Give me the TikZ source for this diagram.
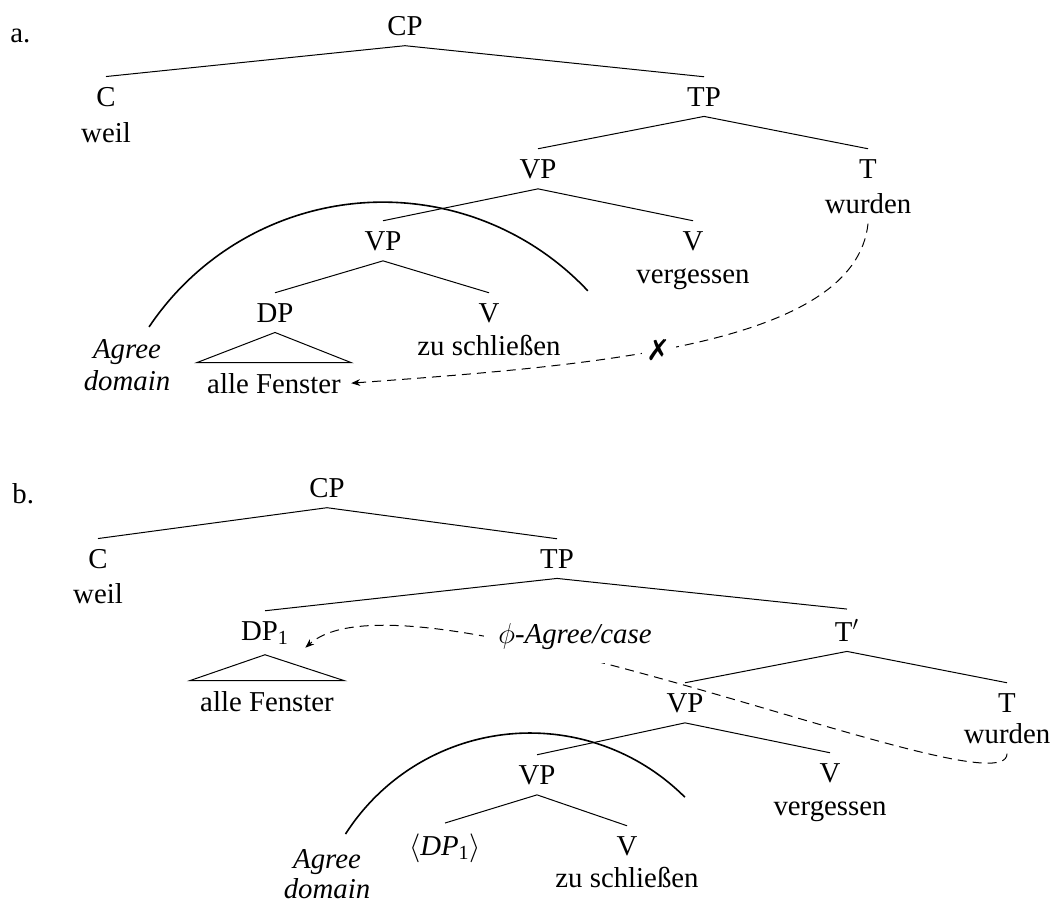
\documentclass[tikz,border=0pt]{standalone}
\usepackage{fontspec}
\setmainfont{Liberation Serif}
\newfontfamily\symfont{DejaVu Sans}
\usetikzlibrary{arrows.meta}
\begin{document}
\begin{tikzpicture}[x=0.5pt,y=-0.5pt,
  every node/.style={font=\fontsize{14.4}{17}\selectfont, inner sep=5pt},
  lbl/.style={anchor=base},
  edge/.style={line width=0.5pt},
  dom/.style={line width=0.8pt},
  dsh/.style={line width=0.5pt, dash pattern=on 4.5pt off 3pt, -{Stealth[length=4.5pt,width=3.4pt]}},
  it/.style={anchor=base, font=\fontsize{14.4}{17}\selectfont\itshape}]
\useasboundingbox (0,0) rectangle (1052,902);

% ---------------- tree a ----------------
\node[anchor=base west, inner sep=0pt] (la) at (10,42) {a.};
\node[lbl] (CPa) at (405,35) {CP};
\node[lbl] (Ca) at (106,106) {C};
\node[lbl] (weila) at (106,142) {weil};
\node[lbl] (TPa) at (704,106) {TP};
\node[lbl] (VPa) at (538,178) {VP};
\node[lbl] (Ta) at (868,178) {T};
\node[lbl] (wurdena) at (868,213) {wurden};
\node[lbl] (VPa2) at (383,250) {VP};
\node[lbl] (Va) at (693,250) {V};
\node[lbl] (verga) at (693,283) {vergessen};
\node[lbl] (DPa) at (275,322) {DP};
\node[lbl] (Va2) at (489,322) {V};
\node[lbl] (zua) at (489,355) {zu schließen};
\node[lbl] (AFa) at (274,393) {alle Fenster};
\node[it] (agra) at (127,358) {Agree};
\node[it] (doma) at (127,390) {domain};

\draw[edge] (Ca.north) -- (CPa.south) -- (TPa.north);
\draw[edge] (VPa.north) -- (TPa.south) -- (Ta.north);
\draw[edge] (VPa2.north) -- (VPa.south) -- (Va.north);
\draw[edge] (DPa.north) -- (VPa2.south) -- (Va2.north);
\draw[edge] (DPa.south) -- (AFa.north west) -- (AFa.north east) -- cycle;

\draw[dom] plot[domain=-146.2:-43.2, samples=90]
  ({382.8+281.3*cos(\x)}, {483.4+281.3*sin(\x)});

\draw[dsh] (wurdena.south) .. controls (855,345) and (600,365) .. (AFa.east)
  node[pos=0.565, fill=white, inner sep=2.5pt, font=\fontsize{14.4}{17}\symfont] (xmark) {✗};

% ---------------- tree b ----------------
\node[anchor=base west, inner sep=0pt] (lb) at (12,503) {b.};
\node[lbl] (CPb) at (327,497) {CP};
\node[lbl] (Cb) at (98,568) {C};
\node[lbl] (weilb) at (98,603) {weil};
\node[lbl] (TPb) at (557,568) {TP};
\node[lbl] (DP1) at (265,640) {DP\textsubscript{1}};
\node[lbl] (Tbar) at (847,641) {T$'$};
\node[lbl] (AFb) at (267,711) {alle Fenster};
\node[lbl] (VPb) at (685,712) {VP};
\node[lbl] (Tb) at (1007,712) {T};
\node[lbl] (wurdenb) at (1007,743) {wurden};
\node[lbl] (VPb2) at (537,784) {VP};
\node[lbl] (Vb) at (830,782) {V};
\node[lbl] (vergb) at (830,815) {vergessen};
\node[lbl] (DPt) at (445,855) {$\langle$\textit{DP}\textsubscript{1}$\rangle$};
\node[lbl] (Vb2) at (627,855) {V};
\node[lbl] (zub) at (627,887) {zu schließen};
\node[it] (agrb) at (327,868) {Agree};
\node[it] (domb) at (327,898) {domain};

\draw[edge] (Cb.north) -- (CPb.south) -- (TPb.north);
\draw[edge] (DP1.north) -- (TPb.south) -- (Tbar.north);
\draw[edge] (DP1.south) -- (AFb.north west) -- (AFb.north east) -- cycle;
\draw[edge] (VPb.north) -- (Tbar.south) -- (Tb.north);
\draw[edge] (VPb2.north) -- (VPb.south) -- (Vb.north);
\draw[edge] (DPt.north) -- (VPb2.south) -- (Vb2.north);

\draw[dom] plot[domain=-147.4:-45, samples=90]
  ({530+219*cos(\x)}, {952+219*sin(\x)});

\draw[dsh] (wurdenb.south) .. controls (1007,815) and (410,555) .. ([shift={(6,-7)}]DP1.south east);
\node[it, fill=white, inner sep=7pt] (phi) at (575,643) {$\phi$-Agree/case};
\end{tikzpicture}
\end{document}
